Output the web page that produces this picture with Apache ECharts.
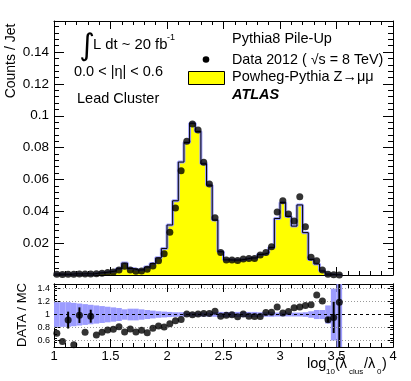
<!DOCTYPE html>
<html>
<head>
<meta charset="utf-8">
<script src="https://cdn.jsdelivr.net/npm/echarts@6/dist/echarts.min.js"></script>
<style>
html, body { margin: 0; padding: 0; background: #fff; }
#main { width: 411px; height: 381px; }
</style>
</head>
<body>
<div id="main"></div>
<script>
//分箱设置
var binLow = 1.0;
var binWidth = 0.05;

//数据（每箱计数）
var dataCounts = [0.0004, 0.0003, 0.0004, 0.0004, 0.0006, 0.0006, 0.0006, 0.0008, 0.0011, 0.0015,
    0.0019, 0.0032, 0.0055, 0.0032, 0.0023, 0.0025, 0.0036, 0.0057, 0.0089, 0.0134,
    0.0269, 0.0421, 0.0655, 0.0840, 0.0948, 0.0910, 0.0708, 0.0572, 0.0360, 0.0142,
    0.0094, 0.0094, 0.0091, 0.0100, 0.0104, 0.0104, 0.0125, 0.0142, 0.0178, 0.0396,
    0.0466, 0.0383, 0.0339, 0.0491, 0.0303, 0.0111, 0.0090, 0.0031, 0.0005, 0.0001,
    0.00005];

//MC（Powheg-Pythia）
var mcCounts = [0.00056, 0.0005, 0.00044, 0.00075, 0.0006, 0.0008, 0.0006, 0.0012, 0.0015, 0.0020,
    0.0025, 0.0039, 0.0075, 0.0041, 0.0031, 0.0033, 0.0050, 0.0072, 0.0108, 0.0166,
    0.0314, 0.0466, 0.0709, 0.0832, 0.0953, 0.0901, 0.0698, 0.0564, 0.0345, 0.0146,
    0.0095, 0.0094, 0.0094, 0.0099, 0.0107, 0.0107, 0.0129, 0.0138, 0.0172, 0.0355,
    0.0455, 0.0367, 0.0307, 0.0440, 0.0266, 0.0097, 0.0069, 0.0025, 0.00055, 0.0001,
    0.00004];

//DATA / MC
var ratioValues = [0.71, 0.585, 0.914, 0.535, 0.99, 0.727, 0.974, 0.686, 0.727, 0.762,
    0.773, 0.812, 0.732, 0.777, 0.732, 0.757, 0.721, 0.788, 0.823, 0.808,
    0.858, 0.903, 0.924, 1.01, 0.995, 1.01, 1.015, 1.015, 1.05, 0.974,
    0.99, 0.995, 0.965, 1.01, 0.974, 0.97, 0.97, 1.03, 1.035, 1.115,
    1.025, 1.045, 1.106, 1.115, 1.14, 1.15, 1.30, 1.21, 0.92, 0.955,
    1.19];

var ratioErrors = [0, 0, 0.13, 0, 0.12, 0, 0.10, 0, 0, 0,
    0, 0, 0, 0, 0, 0, 0, 0, 0, 0,
    0, 0, 0, 0, 0, 0, 0, 0, 0, 0,
    0, 0, 0, 0, 0, 0, 0, 0, 0, 0,
    0, 0, 0, 0, 0, 0, 0, 0, 0.04, 0.24,
    1.0];

//MC 统计误差带（相对值）
var mcBand = [0.19, 0.19, 0.19, 0.18, 0.17, 0.16, 0.15, 0.14, 0.13, 0.12,
    0.11, 0.10, 0.08, 0.09, 0.09, 0.08, 0.07, 0.06, 0.05, 0.045,
    0.04, 0.035, 0.035, 0.03, 0.03, 0.03, 0.03, 0.03, 0.035, 0.04,
    0.04, 0.04, 0.04, 0.04, 0.04, 0.04, 0.035, 0.035, 0.035, 0.03,
    0.03, 0.03, 0.03, 0.03, 0.035, 0.05, 0.07, 0.07, 0.14, 0.4,
    1.0];

//刻度
var ratioTicks = [0.6, 0.8, 1, 1.2, 1.4];

var FONT = 'Liberation Sans, Arial, Helvetica, sans-serif';

function binEdge(i) {
    return +(binLow + i * binWidth).toFixed(4);
}

function binCenter(i) {
    return +(binLow + (i + 0.5) * binWidth).toFixed(4);
}

//组装序列数据
var n = mcCounts.length;
var mcStep = [];
for (var i = 0; i < n; i++) {
    mcStep.push([binEdge(i), mcCounts[i]]);
}
mcStep.push([binEdge(n), mcCounts[n - 1]]);
mcStep.push([binEdge(n), 0]);

var dataPoints = [];
for (var i = 0; i < dataCounts.length; i++) {
    dataPoints.push([binCenter(i), dataCounts[i]]);
}

var ratioPoints = [];
var ratioBars = [];
for (var i = 0; i < ratioValues.length; i++) {
    ratioPoints.push([binCenter(i), ratioValues[i]]);
    if (ratioErrors[i] > 0) {
        ratioBars.push([binCenter(i), ratioValues[i] - ratioErrors[i], ratioValues[i] + ratioErrors[i]]);
    }
}

var bandRects = [];
for (var i = 0; i < mcBand.length; i++) {
    bandRects.push([binEdge(i), binEdge(i + 1), 1 - mcBand[i], 1 + mcBand[i]]);
}

//次刻度（下图 y 轴）
var ratioMinor = [];
for (var k = 0; k <= 15; k++) {
    var v = +(0.5 + k * 0.2 / 3).toFixed(4);
    if (v <= 1.47) ratioMinor.push(v);
}

function renderBand(params, api) {
    var p0 = api.coord([api.value(0), api.value(3)]);
    var p1 = api.coord([api.value(1), api.value(2)]);
    return {
        type: 'rect',
        shape: { x: p0[0], y: p0[1], width: p1[0] - p0[0], height: p1[1] - p0[1] },
        style: { fill: '#9c9cff' }
    };
}

function renderErr(params, api) {
    var p0 = api.coord([api.value(0), api.value(1)]);
    var p1 = api.coord([api.value(0), api.value(2)]);
    return {
        type: 'line',
        shape: { x1: p0[0], y1: p0[1], x2: p1[0], y2: p1[1] },
        style: { stroke: '#000', lineWidth: 2 }
    };
}

function xAxisDef(grid, pos, showLabel, major, minor) {
    return {
        type: 'value', gridIndex: grid, position: pos,
        min: 1, max: 4, interval: 0.5,
        axisLine: { show: true, onZero: false, lineStyle: { color: '#000', width: 1 } },
        axisTick: { show: true, inside: true, length: major, lineStyle: { color: '#000' } },
        minorTick: { show: true, splitNumber: 5, length: minor, lineStyle: { color: '#000' } },
        splitLine: { show: false },
        minorSplitLine: { show: false },
        axisLabel: {
            show: showLabel, color: '#000', fontFamily: FONT, fontSize: 13, margin: 3
        }
    };
}

function topYAxis(pos, showLabel) {
    return {
        type: 'value', gridIndex: 0, position: pos,
        min: 0, max: 0.1595, interval: 0.02,
        axisLine: { show: true, onZero: false, lineStyle: { color: '#000', width: 1 } },
        axisTick: { show: true, inside: true, length: 10, lineStyle: { color: '#000' } },
        minorTick: { show: true, splitNumber: 5, length: 5, lineStyle: { color: '#000' } },
        splitLine: { show: false },
        axisLabel: {
            show: showLabel, color: '#000', fontFamily: FONT, fontSize: 13.5, margin: 5,
            formatter: function(v) {
                var k = v / 0.02;
                if (v <= 0 || Math.abs(k - Math.round(k)) > 1e-6) return '';
                return String(+v.toFixed(2));
            }
        }
    };
}

function ratioYAxis(pos, showLabel, ticks, len) {
    return {
        type: 'value', gridIndex: 1, position: pos,
        min: 0.5, max: 1.47,
        axisLine: { show: true, onZero: false, lineStyle: { color: '#000', width: 1 } },
        axisTick: { show: true, inside: true, length: len, customValues: ticks, lineStyle: { color: '#000' } },
        splitLine: { show: false },
        axisLabel: {
            show: showLabel, color: '#000', fontFamily: FONT, fontSize: 9, margin: 4,
            customValues: ticks,
            formatter: function(v) { return String(+v.toFixed(1)); }
        }
    };
}

function txt(x, y, s, size, extra) {
    var st = {
        text: s, fill: '#000', font: (extra && extra.font) || (size + 'px ' + FONT),
        align: (extra && extra.align) || 'left', verticalAlign: 'middle'
    };
    return { type: 'text', x: x, y: y, rotation: (extra && extra.rotation) || 0, style: st, z: 100 };
}

function initChart() {
    var myChart = echarts.init(document.getElementById('main'), null, { renderer: 'canvas' });
    var option = {
        animation: false,
        backgroundColor: '#fff',
        grid: [
            { left: 54, top: 21, width: 339, height: 254 },
            { left: 54, top: 284, width: 339, height: 63 }
        ],
        xAxis: [
            xAxisDef(0, 'bottom', false, 8, 4),
            xAxisDef(0, 'top', false, 8, 4),
            xAxisDef(1, 'bottom', true, 8, 4),
            xAxisDef(1, 'top', false, 8, 4)
        ],
        yAxis: [
            topYAxis('left', true),
            topYAxis('right', false),
            ratioYAxis('left', true, ratioTicks, 6),
            ratioYAxis('right', false, ratioTicks, 6),
            ratioYAxis('left', false, ratioMinor, 3),
            ratioYAxis('right', false, ratioMinor, 3)
        ],
        series: [{
            //黄色填充
            type: 'line', xAxisIndex: 0, yAxisIndex: 0,
            data: mcStep, step: 'end', symbol: 'none',
            lineStyle: { width: 0 },
            areaStyle: { color: '#ffff00', opacity: 1 },
            z: 1
        }, {
            //误差带（上图）
            type: 'line', xAxisIndex: 0, yAxisIndex: 0,
            data: mcStep, step: 'end', symbol: 'none',
            lineStyle: { color: '#a0a0ff', width: 3 },
            z: 2
        }, {
            type: 'line', xAxisIndex: 0, yAxisIndex: 0,
            data: mcStep, step: 'end', symbol: 'none',
            lineStyle: { color: '#000', width: 1 },
            z: 3
        }, {
            type: 'scatter', xAxisIndex: 0, yAxisIndex: 0,
            data: dataPoints, symbol: 'circle', symbolSize: 7,
            itemStyle: { color: '#000' }, clip: true, z: 4
        }, {
            type: 'custom', xAxisIndex: 2, yAxisIndex: 2,
            data: bandRects, renderItem: renderBand, clip: true,
            encode: { x: [0, 1], y: [2, 3] }, z: 1
        }, {
            type: 'custom', xAxisIndex: 2, yAxisIndex: 2,
            data: ratioBars, renderItem: renderErr, clip: true,
            encode: { x: 0, y: [1, 2] }, z: 4
        }, {
            type: 'scatter', xAxisIndex: 2, yAxisIndex: 2,
            data: ratioPoints, symbol: 'circle', symbolSize: 7,
            itemStyle: { color: '#000' }, clip: true, z: 5,
            markLine: {
                silent: true, symbol: 'none', label: { show: false },
                data: [
                    { yAxis: 0.6, lineStyle: { color: '#999', type: [1, 2], width: 1 } },
                    { yAxis: 0.8, lineStyle: { color: '#999', type: [1, 2], width: 1 } },
                    { yAxis: 1.2, lineStyle: { color: '#999', type: [1, 2], width: 1 } },
                    { yAxis: 1.4, lineStyle: { color: '#999', type: [1, 2], width: 1 } },
                    { yAxis: 1, lineStyle: { color: '#000', type: [3, 3], width: 1 } }
                ]
            }
        }],
        graphic: [
            txt(11, 61, 'Counts / Jet', 14, { rotation: Math.PI / 2, align: 'center' }),
            txt(22, 315, 'DATA / MC', 13, { rotation: Math.PI / 2, align: 'center' }),
            txt(87, 47, '\u222B', 30, { align: 'center', font: '30px DejaVu Sans' }),
            txt(93, 45, 'L dt ~ 20 fb', 14.8),
            txt(167, 38, '-1', 9),
            txt(74, 72, '0.0 < |\u03B7| < 0.6', 14.5),
            txt(77, 99, 'Lead Cluster', 14.5),
            txt(232, 39, 'Pythia8 Pile-Up', 14.5),
            txt(232, 60, 'Data 2012 ( \u221As = 8 TeV)', 14.3),
            txt(232, 77, 'Powheg-Pythia Z\u2192\u03BC\u03BC', 14.5),
            txt(232, 95, 'ATLAS', 14.5, { font: 'italic bold 14.5px ' + FONT }),
            {
                type: 'circle', shape: { cx: 206, cy: 59.5, r: 3.3 },
                style: { fill: '#000' }, z: 100
            },
            {
                type: 'rect', shape: { x: 188.5, y: 71.5, width: 36, height: 13 },
                style: { fill: '#ffff00', stroke: '#000', lineWidth: 1 }, z: 100
            },
            txt(307, 364, 'log', 14.5),
            txt(326, 372, '10', 8),
            txt(335, 364, '(\u03BB', 14.5),
            txt(349, 372, 'clus', 8),
            txt(364, 364, '/\u03BB', 14.5),
            txt(377, 372, '0', 8),
            txt(382, 364, ')', 14.5)
        ]
    };
    myChart.setOption(option);
}

initChart();
</script>
</body>
</html>
